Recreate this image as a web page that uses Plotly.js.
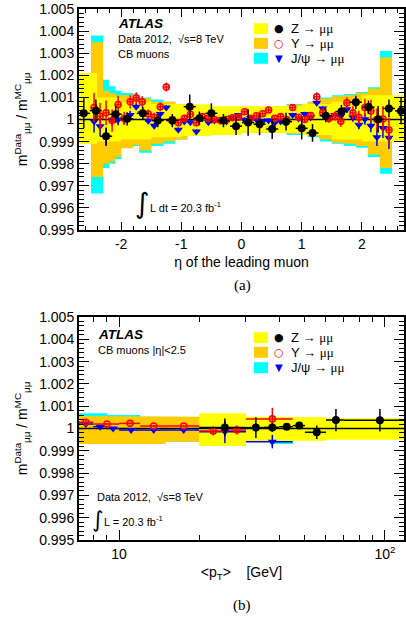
<!DOCTYPE html>
<html><head><meta charset="utf-8">
<script src="https://cdn.plot.ly/plotly-3.0.1.min.js"></script>
<style>html,body{margin:0;padding:0;background:#fff;}#chart{width:406px;height:619px;}</style>
</head><body><div id="chart"></div>
<script>
// ================= Panel (a): ratio vs eta of the leading muon =================
const zEta = [-2.62,-2.42,-2.25,-2.09,-1.90,-1.64,-1.39,-1.15,-0.86,-0.70,-0.50,-0.30,-0.09,0.11,0.30,0.51,0.74,1.00,1.18,1.40,1.66,1.90,2.11,2.27,2.45,2.65];
const zVal = [1.00028,1.00040,0.99924,1.00024,1.00003,1.00028,0.99995,0.99995,1.00058,1.00006,1.00028,0.99995,0.99970,0.99986,0.99979,0.99957,0.99990,0.99960,0.99939,1.00017,1.00036,1.00078,1.00056,1.00001,1.00050,1.00039];
const zErr = [0.00068,0.0005,0.0004,0.0004,0.0003,0.0003,0.0003,0.0003,0.00055,0.0003,0.00045,0.0003,0.0004,0.0006,0.0005,0.00045,0.0004,0.0005,0.0004,0.0003,0.0003,0.0003,0.0003,0.0006,0.0004,0.0006];

const qEta = [-2.45,-2.35,-2.25,-2.15,-2.05,-1.95,-1.85,-1.75,-1.65,-1.55,-1.45,-1.35,-1.25,-1.15,-1.05,-0.95,-0.85,-0.75,-0.65,-0.55,-0.45,-0.35,-0.25,-0.15,-0.05,0.05,0.15,0.25,0.35,0.45,0.55,0.65,0.75,0.85,0.95,1.05,1.15,1.25,1.35,1.45,1.55,1.65,1.75,1.85,1.95,2.05,2.15,2.25,2.35,2.45];
const upsVal = [1.00054,1.00015,1.00030,0.99995,1.00068,1.00005,1.00080,1.00098,1.00080,1.00025,1.00010,1.00058,1.00147,1.00000,0.99985,1.00005,1.00024,0.99985,1.00013,1.00005,1.00000,0.99995,1.00000,1.00008,1.00010,1.00035,1.00005,1.00017,1.00026,1.00043,1.00005,1.00013,1.00000,1.00054,1.00010,1.00000,1.00018,1.00103,1.00031,1.00005,1.00015,0.99992,1.00075,1.00030,1.00010,1.00054,1.00039,1.00000,1.00002,0.99952];
const upsErr = [0.00067,0.0006,0.00056,0.0005,0.0004,0.0003,0.0003,0.00025,0.00025,0.0002,0.0002,0.0002,0.0002,0.00015,0.00015,0.00015,0.00015,0.00015,0.00012,0.0001,0.0001,0.0001,0.0001,0.0001,0.0001,0.0001,0.0001,0.0001,0.0001,0.0001,0.0001,0.00012,0.00015,0.00015,0.00015,0.00015,0.00015,0.0002,0.0002,0.0002,0.0002,0.00025,0.00025,0.0003,0.0003,0.0004,0.0005,0.0005,0.00058,0.00056];
const jpsiVal = [0.99991,0.99969,0.99920,0.99999,0.99999,1.00000,1.00020,1.00058,1.00028,0.99994,0.99972,1.00025,1.00054,0.99990,0.99954,0.99991,0.99987,0.99946,1.00006,0.99987,0.99995,0.99995,0.99991,1.00010,1.00020,0.99999,1.00006,0.99999,0.99991,0.99995,0.99984,0.99991,0.99991,1.00020,1.00005,1.00025,1.00010,1.00076,1.00050,1.00006,1.00020,1.00016,1.00046,1.00010,0.99976,1.00001,0.99972,0.99920,0.99961,0.99917];
const jpsiErr = [0.0005,0.00045,0.0004,0.0003,0.00025,0.0002,0.0002,0.00015,0.00015,0.00012,0.00012,0.0001,0.0001,0.0001,0.0001,0.0001,0.0001,0.0001,0.0001,0.0001,0.0001,0.0001,0.0001,0.0001,0.0001,0.0001,0.0001,0.0001,0.0001,0.0001,0.0001,0.0001,0.0001,0.0001,0.0001,0.0001,0.0001,0.0001,0.0001,0.00012,0.00012,0.00015,0.00015,0.0002,0.0002,0.00025,0.0003,0.0004,0.00045,0.0005];

// systematic bands (step functions in eta)
const zBandEdges = [-2.7,-2.4,-2.0,-1.5,-1.0,-0.5,0,0.5,1.0,1.5,2.0,2.4,2.7];
const zBandLo = [0.9989,0.9990,0.9991,0.9992,0.99925,0.9993,0.9994,0.9994,0.9993,0.9991,0.9990,0.9990];
const zBandHi = [1.0021,1.0010,1.0008,1.0007,1.00068,1.0006,1.0006,1.0006,1.0007,1.0008,1.0011,1.0011];
const qBandEdges = [-2.5,-2.3,-2.2,-2.1,-2.0,-1.8,-1.7,-1.5,-1.3,-1.1,-0.9,-0.5,0.5,0.75,1.1,1.3,1.5,1.7,1.9,2.1,2.3,2.5];
const upsBandLo = [0.9974,0.9980,0.9981,0.9983,0.9987,0.99885,0.9986,0.9989,0.9990,0.9991,0.9993,0.9994,0.9994,0.99935,0.99924,0.99909,0.99895,0.9989,0.9988,0.99842,0.9978];
const upsBandHi = [1.0035,1.0013,1.0012,1.0011,1.0011,1.0010,1.00095,1.0008,1.0008,1.0007,1.0006,1.0005,1.0006,1.00067,1.0008,1.00095,1.00105,1.0011,1.0012,1.0014,1.0028];
const jpsiBandLo = [0.99665,0.9978,0.9980,0.9982,0.99872,0.9988,0.9985,0.9988,0.9989,0.9991,0.9993,0.9994,0.9994,0.9993,0.9992,0.9990,0.9989,0.9988,0.99872,0.9983,0.99755];
const jpsiBandHi = [1.0038,1.0018,1.0015,1.0013,1.0012,1.00105,1.0010,1.0009,1.0008,1.0007,1.0006,1.0005,1.0006,1.0007,1.0008,1.0010,1.0011,1.00115,1.00125,1.00146,1.0031];

// ================= Panel (b): ratio vs <pT> =================
const zPt = [25.0,32.7,37.7,42.7,47.6,55.4,65.4,95.7];
const zPtLo = [20,30,35,40,45,50,60,70];
const zPtHi = [30,35,40,45,50,60,70,120];
const zPtVal = [1.00005,1.00004,1.00005,1.00008,1.00013,0.99983,1.00038,1.00037];
const zPtErr = [0.0004,0.00047,0.0002,0.0001,0.0001,0.0003,0.0005,0.0005];
const upsPt = [7.5,9.0,11.0,13.5,17.5,22.6,27.7,37.7];
const upsPtLo = [7,8,10,12,15,20,25,30];
const upsPtHi = [8,10,12,15,20,25,30,45];
const upsPtVal = [1.00028,1.00020,1.00023,1.00011,1.00011,0.99989,0.99993,1.00043];
const upsPtErr = [0.0001,0.00005,0.00005,0.00005,0.00005,0.0002,0.0002,0.0005];
const jpsiPt = [7.5,8.5,9.5,11.1,13.5,17.5,25.0,37.7];
const jpsiPtLo = [7,8,9,10,12,15,20,30];
const jpsiPtHi = [8,9,10,12,15,20,30,45];
const jpsiPtVal = [1.00020,1.00008,1.00000,0.99993,0.99993,0.99993,0.99985,0.99941];
const jpsiPtErr = [0.00005,0.00005,0.00005,0.00005,0.00005,0.00005,0.0005,0.0003];
const zPtBandEdges = [20,30,45,60,120];
const zPtBandLo = [0.99921,0.99941,0.99945,0.9995];
const zPtBandHi = [1.00068,1.00053,1.0005,1.00046];
const upsPtBandEdges = [7,15,20];
const upsPtBandLo = [0.9993,0.99941];
const upsPtBandHi = [1.00056,1.00053];
const jpsiPtBandEdges = [7,9,12,20,37,45];
const jpsiPtBandLo = [0.9993,0.9993,0.9994,0.9994,0.9993];
const jpsiPtBandHi = [1.00068,1.0006,1.00053,1.0005,1.0005];

// axes
const etaRange = [-2.7, 2.7];
const ptRange = [7.07, 117.9];
const yRange = [0.995, 1.005];
const yTickVals = [0.995,0.996,0.997,0.998,0.999,1.000,1.001,1.002,1.003,1.004,1.005];
const yTickText = ['0.995','0.996','0.997','0.998','0.999','1','1.001','1.002','1.003','1.004','1.005'];
const etaTickVals = [-2,-1,0,1,2];
const etaTickText = ['-2','-1','0','1','2'];
const ptTickVals = [10,100];
const ptTickText = ['10','10<sup>2</sup>'];
const ptMinorVals = [8,9,20,30,40,50,60,70,80,90];

const YELLOW='#FFFF00', ORANGE='#FFCC00', CYAN='#00FFFF';
const SANS='Liberation Sans, Arial, Helvetica, sans-serif';
const SERIF='Liberation Serif, Times New Roman, serif';

function band(edges, lo, hi, color, xa, ya){
  const xs=[], ys=[];
  for(let i=0;i<lo.length;i++){ xs.push(edges[i], edges[i+1]); ys.push(hi[i], hi[i]); }
  for(let i=lo.length-1;i>=0;i--){ xs.push(edges[i+1], edges[i]); ys.push(lo[i], lo[i]); }
  return {type:'scatter', mode:'lines', x:xs, y:ys, fill:'toself', fillcolor:color,
    line:{width:0, color:color}, xaxis:xa, yaxis:ya, hoverinfo:'skip', showlegend:false};
}
function refLine(range, xa, ya){
  return {type:'scatter', mode:'lines', x:range, y:[1,1], line:{color:'black', width:1.5},
    xaxis:xa, yaxis:ya, hoverinfo:'skip', showlegend:false};
}
function pts(x, y, ey, ex, marker, color, xa, ya){
  const t = {type:'scatter', mode:'markers', x:x, y:y, marker:marker,
    error_y:{type:'data', array:ey, visible:true, color:color, thickness:1.5, width:0},
    xaxis:xa, yaxis:ya, showlegend:false, cliponaxis:true};
  if (ex.sym !== undefined) t.error_x = {type:'constant', value:ex.sym, visible:true, color:color, thickness:1.5, width:0};
  else t.error_x = {type:'data', symmetric:false, array:ex.plus, arrayminus:ex.minus, visible:true, color:color, thickness:1.5, width:0};
  return t;
}
const mZ = {symbol:'circle', size:8, color:'black'};
const mU = {symbol:'circle-open', size:6, color:'red', line:{width:1.6, color:'red'}};
const mJ = {symbol:'triangle-down', size:8, color:'blue'};

const plus = (c, hi) => hi.map((h,i)=>h-c[i]);
const minus = (c, lo) => lo.map((l,i)=>c[i]-l);

const traces = [
  band(qBandEdges, jpsiBandLo, jpsiBandHi, CYAN, 'x', 'y'),
  band(qBandEdges, upsBandLo, upsBandHi, ORANGE, 'x', 'y'),
  band(zBandEdges, zBandLo, zBandHi, YELLOW, 'x', 'y'),
  refLine(etaRange, 'x', 'y'),
  pts(qEta, jpsiVal, jpsiErr, {sym:0.05}, mJ, 'blue', 'x', 'y'),
  pts(qEta, upsVal, upsErr, {sym:0.05}, mU, 'red', 'x', 'y'),
  pts(zEta, zVal, zErr, {sym:0.1}, mZ, 'black', 'x', 'y'),

  band(jpsiPtBandEdges, jpsiPtBandLo, jpsiPtBandHi, CYAN, 'x2', 'y2'),
  band(upsPtBandEdges, upsPtBandLo, upsPtBandHi, ORANGE, 'x2', 'y2'),
  band(zPtBandEdges, zPtBandLo, zPtBandHi, YELLOW, 'x2', 'y2'),
  refLine(ptRange, 'x2', 'y2'),
  pts(jpsiPt, jpsiPtVal, jpsiPtErr, {plus:plus(jpsiPt,jpsiPtHi), minus:minus(jpsiPt,jpsiPtLo)}, mJ, 'blue', 'x2', 'y2'),
  pts(upsPt, upsPtVal, upsPtErr, {plus:plus(upsPt,upsPtHi), minus:minus(upsPt,upsPtLo)}, mU, 'red', 'x2', 'y2'),
  pts(zPt, zPtVal, zPtErr, {plus:plus(zPt,zPtHi), minus:minus(zPt,zPtLo)}, mZ, 'black', 'x2', 'y2')
];

const W=406, H=619;
const px = v => v/W, py = v => 1 - v/H;
const tickFont = {family:SANS, size:14, color:'black'};
const axisBase = {showline:true, linecolor:'black', linewidth:2, mirror:'allticks', ticks:'inside',
  tickcolor:'black', tickwidth:1, showgrid:false, zeroline:false, tickfont:tickFont, fixedrange:true,
  ticklabeloverflow:'allow'};
const yTitle = 'm<sup>Data</sup><sub>μμ</sub> / m<sup>MC</sup><sub>μμ</sub>';
const xDom = [px(79), px(404)];

const layout = {
  width:W, height:H, margin:{l:0,r:0,t:0,b:0}, paper_bgcolor:'white', plot_bgcolor:'white', showlegend:false,
  font:{family:SANS, color:'black'},
  xaxis: Object.assign({}, axisBase, {domain:xDom, anchor:'y', range:etaRange, tickmode:'array', tickvals:etaTickVals, ticktext:etaTickText, ticklen:8,
    minor:{ticks:'inside', ticklen:4, tickcolor:'black', dtick:0.2, tick0:0, showgrid:false},
    title:{text:'η of the leading muon', font:{family:SANS, size:14}, standoff:6}}),
  yaxis: Object.assign({}, axisBase, {domain:[py(230), py(9)], anchor:'x', range:yRange, tickmode:'array', tickvals:yTickVals, ticktext:yTickText, ticklen:10,
    minor:{ticks:'inside', ticklen:5, tickcolor:'black', dtick:0.0002, tick0:0.995, showgrid:false},
    title:{text:yTitle, font:{family:SANS, size:14}, standoff:8}}),
  xaxis2: Object.assign({}, axisBase, {domain:xDom, anchor:'y2', type:'log', range:ptRange.map(Math.log10), tickmode:'array', tickvals:ptTickVals, ticktext:ptTickText, ticklen:10,
    minor:{ticks:'inside', ticklen:5, tickcolor:'black', tickmode:'array', tickvals:ptMinorVals, showgrid:false},
    title:{text:'&lt;p<sub>T</sub>&gt;\u00a0\u00a0\u00a0\u00a0[GeV]', font:{family:SANS, size:14}, standoff:6}}),
  yaxis2: Object.assign({}, axisBase, {domain:[py(540), py(317)], anchor:'x2', range:yRange, tickmode:'array', tickvals:yTickVals, ticktext:yTickText, ticklen:10,
    minor:{ticks:'inside', ticklen:5, tickcolor:'black', dtick:0.0002, tick0:0.995, showgrid:false},
    title:{text:yTitle, font:{family:SANS, size:14}, standoff:8}}),
  shapes:[], annotations:[]
};

function note(x, y, text, size, opts){
  layout.annotations.push(Object.assign({xref:'paper', yref:'paper', x:px(x), y:py(y), text:text, showarrow:false,
    xanchor:'left', yanchor:'middle', font:{family:SANS, size:size, color:'black'}}, opts||{}));
}
function legend(rows){
  const labels = [
    {sym:'●', col:'black', box:YELLOW, txt:'Z → <span style="font-family:Liberation Serif">μμ</span>'},
    {sym:'○', col:'red', box:ORANGE, txt:'Υ → <span style="font-family:Liberation Serif">μμ</span>'},
    {sym:'▼', col:'blue', box:CYAN, txt:'J/ψ → <span style="font-family:Liberation Serif">μμ</span>'}
  ];
  rows.forEach((y,i)=>{
    const L = labels[i];
    layout.shapes.push({type:'rect', xref:'paper', yref:'paper', x0:px(254), x1:px(268), y0:py(y+5.5), y1:py(y-5.5), fillcolor:L.box, line:{width:0}});
    note(279, y, L.sym, i===2?10:11, {xanchor:'center', font:{family:'DejaVu Sans', size:i===2?10:11, color:L.col}});
    note(289, y, L.txt, 13);
  });
}
// panel (a) texts
note(116, 24, '<b><i>ATLAS</i></b>', 13.5);
note(116, 39.5, 'Data 2012,  √s=8 TeV', 11);
note(116, 54, 'CB muons', 11);
legend([28.7, 43.3, 58.3]);
note(142, 204, '∫', 28, {xanchor:'center', font:{family:'DejaVu Sans', size:28, color:'black'}});
note(148, 207, 'L dt = 20.3 fb<sup>-1</sup>', 11);
note(242, 285.5, '(a)', 15, {xanchor:'center', font:{family:SERIF, size:15, color:'black'}});
// panel (b) texts
note(96, 334, '<b><i>ATLAS</i></b>', 13.5);
note(96, 350, 'CB muons |η|<2.5', 11);
legend([337.7, 352.3, 367.7]);
note(95, 497, 'Data 2012,  √s=8 TeV', 11);
note(97, 519, '∫', 22, {xanchor:'center', font:{family:'DejaVu Sans', size:22, color:'black'}});
note(102, 521, 'L = 20.3 fb<sup>-1</sup>', 11);
note(242, 605, '(b)', 15, {xanchor:'center', font:{family:SERIF, size:15, color:'black'}});

Plotly.newPlot('chart', traces, layout, {staticPlot:true, displayModeBar:false});
</script></body></html>
